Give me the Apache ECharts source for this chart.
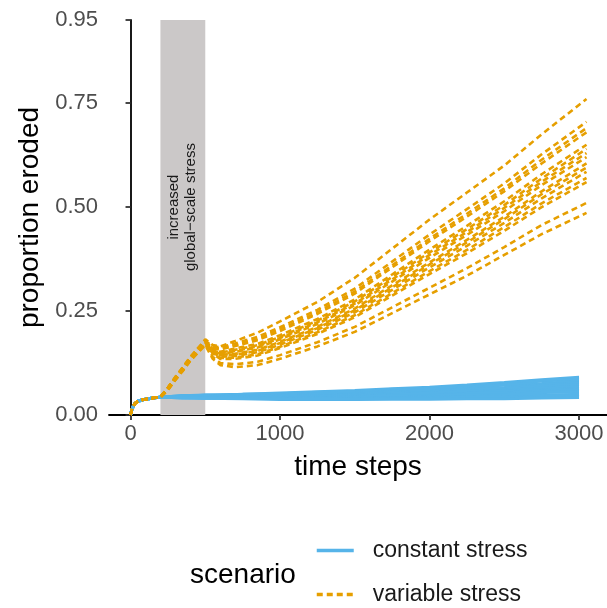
<!DOCTYPE html>
<html><head><meta charset="utf-8">
<script src="https://cdn.jsdelivr.net/npm/echarts@6/dist/echarts.min.js"></script>
<style>html,body{margin:0;padding:0;background:#fff}#c{width:607px;height:608px}</style>
</head><body><div id="c"></div>
<script>
// shared start-up ramp (identical for all runs)
const rampT = [0,5,10,20,30,50,75,100,150,200];
const rampV = [0,0.008,0.014,0.022,0.028,0.033,0.036,0.038,0.041,0.043];

// constant stress runs
const blueT = [350,500,750,1000,1250,1500,1750,2000,2250,2500,2750,3000];
const blueRuns = [
  [0.046,0.048,0.050,0.053,0.056,0.059,0.063,0.067,0.072,0.078,0.085,0.091],
  [0.047,0.046,0.050,0.051,0.055,0.056,0.062,0.063,0.070,0.073,0.082,0.086],
  [0.044,0.048,0.047,0.051,0.052,0.056,0.058,0.063,0.065,0.072,0.076,0.082],
  [0.046,0.045,0.048,0.048,0.052,0.052,0.057,0.058,0.063,0.066,0.073,0.077],
  [0.045,0.044,0.047,0.047,0.050,0.050,0.055,0.056,0.061,0.063,0.070,0.073],
  [0.045,0.043,0.046,0.045,0.049,0.048,0.052,0.053,0.058,0.059,0.065,0.068],
  [0.042,0.045,0.043,0.046,0.045,0.049,0.048,0.053,0.053,0.058,0.060,0.064],
  [0.044,0.042,0.044,0.043,0.046,0.045,0.048,0.048,0.052,0.053,0.058,0.060],
  [0.043,0.041,0.043,0.041,0.044,0.043,0.046,0.046,0.049,0.049,0.054,0.055],
  [0.041,0.042,0.040,0.041,0.040,0.042,0.041,0.044,0.043,0.047,0.047,0.050],
  [0.042,0.040,0.041,0.039,0.040,0.039,0.041,0.040,0.043,0.042,0.045,0.046],
  [0.041,0.040,0.039,0.037,0.038,0.037,0.038,0.038,0.039,0.039,0.041,0.042]
];

// variable stress runs
const orangeT = [250,300,350,400,450,500,550,600,700,850,1000,1250,1500,1750,2000,2250,2500,2750,3050];
const orangeRuns = [
  [0.065,0.092,0.115,0.14,0.16,0.182,0.168,0.165,0.178,0.198,0.225,0.272,0.33,0.4,0.47,0.535,0.6,0.675,0.76],
  [0.062,0.088,0.11,0.135,0.158,0.178,0.165,0.163,0.172,0.188,0.211,0.253,0.304,0.369,0.434,0.495,0.557,0.627,0.705],
  [0.066,0.09,0.112,0.138,0.155,0.176,0.162,0.16,0.168,0.183,0.206,0.247,0.297,0.36,0.424,0.484,0.545,0.614,0.69],
  [0.06,0.085,0.108,0.132,0.152,0.175,0.16,0.158,0.166,0.18,0.202,0.243,0.292,0.355,0.418,0.477,0.538,0.605,0.68],
  [0.064,0.09,0.113,0.136,0.157,0.18,0.158,0.152,0.16,0.171,0.192,0.231,0.278,0.338,0.398,0.455,0.514,0.579,0.65],
  [0.063,0.087,0.109,0.133,0.154,0.174,0.155,0.15,0.157,0.168,0.188,0.227,0.273,0.332,0.391,0.447,0.505,0.569,0.64],
  [0.061,0.086,0.111,0.137,0.156,0.178,0.156,0.149,0.154,0.165,0.185,0.223,0.268,0.326,0.385,0.44,0.498,0.561,0.63],
  [0.066,0.091,0.114,0.139,0.16,0.18,0.154,0.147,0.152,0.162,0.182,0.219,0.264,0.321,0.378,0.433,0.49,0.553,0.62],
  [0.062,0.088,0.107,0.131,0.151,0.172,0.152,0.145,0.147,0.157,0.176,0.212,0.256,0.312,0.367,0.421,0.477,0.538,0.605],
  [0.064,0.089,0.112,0.134,0.155,0.177,0.153,0.143,0.145,0.154,0.173,0.209,0.252,0.307,0.362,0.415,0.471,0.531,0.595],
  [0.06,0.084,0.106,0.13,0.15,0.171,0.15,0.14,0.142,0.151,0.169,0.205,0.247,0.301,0.355,0.407,0.462,0.521,0.585],
  [0.063,0.088,0.11,0.135,0.153,0.175,0.149,0.137,0.138,0.146,0.164,0.199,0.24,0.293,0.346,0.397,0.452,0.509,0.57],
  [0.065,0.09,0.113,0.136,0.157,0.178,0.148,0.135,0.135,0.143,0.161,0.195,0.235,0.287,0.339,0.389,0.443,0.5,0.56],
  [0.061,0.086,0.109,0.133,0.152,0.17,0.14,0.125,0.122,0.128,0.144,0.175,0.212,0.259,0.306,0.353,0.404,0.457,0.51],
  [0.062,0.087,0.11,0.132,0.15,0.168,0.135,0.12,0.115,0.12,0.135,0.165,0.2,0.245,0.29,0.335,0.385,0.435,0.486]
];

const stressWindow = [200, 500];
const xTicks = [0,1000,2000,3000];
const yTicks = [0,0.25,0.5,0.75,0.95];
const names = ['constant stress','variable stress'];

const BLUE = '#56B4E9', ORANGE = '#E69F00';
const FONT = 'Liberation Sans, Arial, sans-serif';

function pts(T, V){ const a=[]; for(let i=0;i<T.length;i++) a.push([T[i],V[i]]); return a; }

const series = [{
  type:'line', data:[], silent:true, z:1,
  markArea:{silent:true, itemStyle:{color:'#cbc8c8'},
    data:[[{xAxis:stressWindow[0]},{xAxis:stressWindow[1]}]]}
}];
blueRuns.forEach(r=>series.push({
  name:names[0], type:'line', symbol:'none', showSymbol:false, z:2, animation:false,
  data: pts(rampT.concat(blueT), rampV.concat(r)),
  lineStyle:{color:BLUE, width:3}, itemStyle:{color:BLUE}
}));
orangeRuns.forEach(r=>series.push({
  name:names[1], type:'line', symbol:'none', showSymbol:false, z:3, animation:false,
  data: pts(rampT.concat(orangeT), rampV.concat(r)),
  lineStyle:{color:ORANGE, width:2.6, type:[6,4]}, itemStyle:{color:ORANGE}
}));

const legendBase = {orient:'vertical', left:315, padding:0, itemWidth:37, itemHeight:20,
  itemStyle:{opacity:0}, lineStyle:{width:3.5},
  textStyle:{color:'#1a1a1a', fontSize:23, lineHeight:22, fontFamily:FONT, padding:[0,0,0,14]}};

const chart = echarts.init(document.getElementById('c'));
chart.setOption({
  animation:false,
  backgroundColor:'#fff',
  grid:{left:109, right:0, top:20, bottom:193, containLabel:false},
  xAxis:{type:'value', min:-144, max:3187,
    splitLine:{show:false},
    axisLine:{onZero:false, lineStyle:{color:'#000', width:1.8}},
    axisTick:{customValues:xTicks, length:5, lineStyle:{color:'#333', width:1.8}},
    axisLabel:{customValues:xTicks, color:'#4d4d4d', fontSize:22, margin:8, fontFamily:FONT,
      formatter:v=>String(v)},
    name:'time steps', nameLocation:'middle', nameGap:38,
    nameTextStyle:{color:'#000', fontSize:28, fontFamily:FONT}},
  yAxis:{type:'value', min:0, max:0.95,
    splitLine:{show:false},
    axisLine:{show:true, lineStyle:{color:'#000', width:1.8}},
    axisTick:{show:true, customValues:yTicks, length:5, lineStyle:{color:'#333', width:1.8}},
    axisLabel:{customValues:yTicks, color:'#4d4d4d', fontSize:22, margin:11, fontFamily:FONT,
      formatter:v=>v.toFixed(2)},
    name:'proportion eroded', nameLocation:'middle', nameGap:60,
    nameTextStyle:{color:'#000', fontSize:28, fontFamily:FONT}},
  legend:[Object.assign({data:[names[0]], top:539}, legendBase),
          Object.assign({data:[names[1]], top:583}, legendBase)],
  series:series
});

// annotation inside the stress window
const p = chart.convertToPixel({gridIndex:0}, [(stressWindow[0]+stressWindow[1])/2, 0.5]);
chart.setOption({graphic:[{type:'text', left:190, top:561,
    style:{text:'scenario', fill:'#000', font:'28px '+FONT}},
  {type:'text', x:p[0], y:p[1], rotation:Math.PI/2, z:10,
   style:{text:'increased\nglobal\u2212scale stress', fill:'#1a1a1a', font:'15px '+FONT,
     align:'center', verticalAlign:'middle', lineHeight:17}}]});
</script></body></html>
